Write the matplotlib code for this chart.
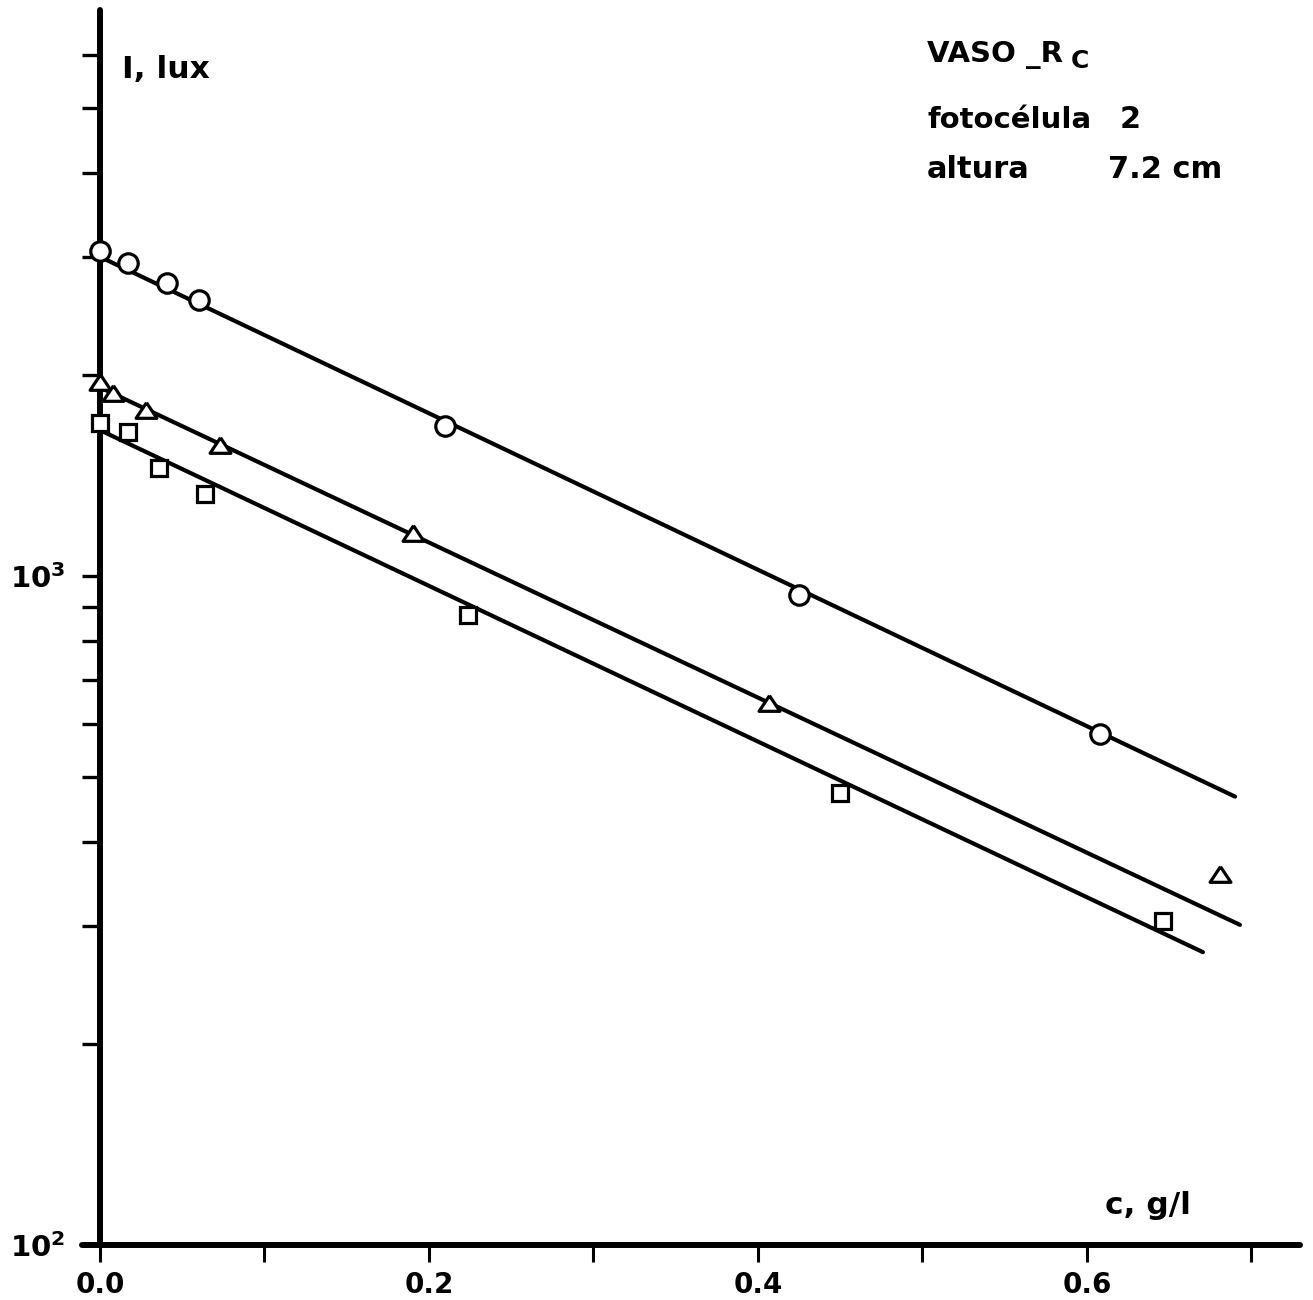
import matplotlib.pyplot as plt

# concentration c (g/l) and light intensity I (lux), one list per series
c_circle = [0.0, 0.017, 0.041, 0.060, 0.210, 0.425, 0.608]
I_circle = [3060, 2940, 2740, 2590, 1675, 937, 581]
c_triangle = [0.0, 0.008, 0.028, 0.073, 0.190, 0.407, 0.681]
I_triangle = [1950, 1880, 1770, 1570, 1160, 646, 359]
c_square = [0.0, 0.017, 0.036, 0.064, 0.224, 0.450, 0.646]
I_square = [1695, 1640, 1450, 1325, 875, 474, 305]

# fitted straight lines (end points on the log scale)
c_fit_circle = [0.0, 0.690]
I_fit_circle = [3000, 468]
c_fit_triangle = [0.0, 0.693]
I_fit_triangle = [1914, 301]
c_fit_square = [0.0, 0.6705]
I_fit_square = [1652, 274]

# ticks
x_major = [0.0, 0.2, 0.4, 0.6]
x_labels = ['0.0', '0.2', '0.4', '0.6']
x_minor = [0.1, 0.3, 0.5, 0.7]
y_major = [100, 1000]
y_labels = [r'$\mathbf{10^2}$', r'$\mathbf{10^3}$']
y_minor = [200, 300, 400, 500, 600, 700, 800, 900, 2000, 3000, 4000, 5000, 6000]

W, H = 1313, 1300
fig = plt.figure(figsize=(W / 100, H / 100), dpi=100)
ax = fig.add_axes([82 / W, 1 - 1245 / H, 1218 / W, 1235 / H])

ax.set_yscale('log')
ax.set_xlim(-0.01094, 0.7295)
ax.set_ylim(100, 7016)

# fitted lines
ax.plot(c_fit_circle, I_fit_circle, color='black', lw=3.0, solid_capstyle='round', zorder=2)
ax.plot(c_fit_triangle, I_fit_triangle, color='black', lw=3.0, solid_capstyle='round', zorder=2)
ax.plot(c_fit_square, I_fit_square, color='black', lw=3.0, solid_capstyle='round', zorder=2)

# measured points, hollow markers
tri = [(0, 0.75), (-1, -0.75), (1, -0.75), (0, 0.75)]
ax.plot(c_circle, I_circle, linestyle='none', marker='o', ms=14, mew=2.3,
        mfc='white', mec='black', zorder=4, clip_on=False)
ax.plot(c_triangle, I_triangle, linestyle='none', marker=tri, ms=15, mew=2.3,
        mfc='white', mec='black', zorder=4, clip_on=False)
ax.plot(c_square, I_square, linestyle='none', marker='s', ms=11.5, mew=2.3,
        mfc='white', mec='black', zorder=4, clip_on=False)

# axes drawn like hand lettering: thick lines, no box
for side in ['top', 'right']:
    ax.spines[side].set_visible(False)
ax.spines['left'].set_position(('data', 0))
ax.spines['left'].set_linewidth(4.3)
ax.spines['bottom'].set_linewidth(4.3)
ax.spines['left'].set_capstyle('round')
ax.spines['bottom'].set_capstyle('round')

ax.set_xticks(x_major)
ax.set_xticklabels(x_labels)
ax.set_xticks(x_minor, minor=True)
ax.set_yticks(y_major)
ax.set_yticklabels(y_labels)
ax.set_yticks(y_minor, minor=True)
ax.set_yticklabels([], minor=True)

ax.tick_params(axis='x', which='both', direction='out', length=12, width=2.2, pad=7,
               labelsize=20)
ax.tick_params(axis='y', which='both', direction='out', length=13, width=2.4, pad=12,
               labelsize=21)
for lab in ax.get_xticklabels():
    lab.set_fontweight('bold')

# lettering
def px_text(x, y, s, size, **kw):
    fig.text(x / W, 1 - y / H, s, fontsize=size, fontweight='bold', va='baseline', **kw)

px_text(122, 78, 'I, lux', 22.5)
px_text(927, 62, 'VASO _R', 21)
px_text(1071, 68, 'C', 18)
px_text(927, 128, 'fotocélula', 21)
px_text(1120, 128, '2', 22)
px_text(927, 178, 'altura', 22)
px_text(1108, 178, '7.2 cm', 22)
px_text(1105, 1214, 'c, g/l', 22.5)

plt.savefig('out.png', dpi=100)
